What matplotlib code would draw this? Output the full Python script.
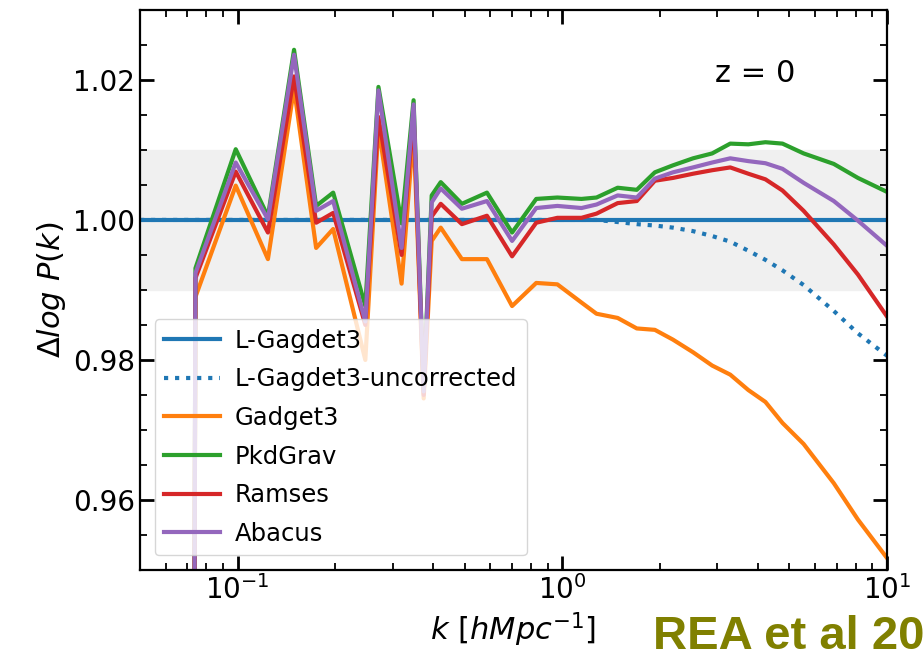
import numpy as np
import matplotlib
matplotlib.use('Agg')
import matplotlib.pyplot as plt
from matplotlib.ticker import MultipleLocator, LogLocator, NullFormatter

# ── data ─────────────────────────────────────────────────────────────────────
k_bins = [0.0731, 0.0741, 0.0986, 0.1239, 0.1491, 0.1744, 0.1968, 0.2472,
          0.2713, 0.3197, 0.3481, 0.3739, 0.3958, 0.4220, 0.4903, 0.5857,
          0.7000, 0.8307, 0.9650, 1.145, 1.274, 1.480, 1.695, 1.927, 2.191,
          2.526, 2.893, 3.289, 3.739, 4.221, 4.764, 5.534, 6.854, 8.134, 10.0]

gadget3 = [0.900, 0.9890, 1.0049, 0.9944, 1.0188, 0.9960, 0.9987, 0.9800,
           1.0133, 0.9909, 1.0128, 0.9745, 0.9970, 0.9989, 0.9944, 0.9944,
           0.9877, 0.9910, 0.9908, 0.9882, 0.9866, 0.9860, 0.9845, 0.9843,
           0.9829, 0.9811, 0.9792, 0.9779, 0.9757, 0.9740, 0.9710, 0.9680,
           0.9624, 0.9572, 0.9517]

pkdgrav = [0.900, 0.9931, 1.0101, 1.0005, 1.0243, 1.0020, 1.0039, 0.9877,
           1.0190, 0.9995, 1.0171, 0.9760, 1.0035, 1.0054, 1.0023, 1.0039,
           0.9982, 1.0030, 1.0032, 1.0030, 1.0032, 1.0046, 1.0043, 1.0068,
           1.0078, 1.0088, 1.0095, 1.0109, 1.0108, 1.0111, 1.0109, 1.0095,
           1.0080, 1.0060, 1.0040]

ramses = [0.900, 0.9917, 1.0069, 0.9982, 1.0205, 0.9996, 1.0010, 0.9850,
          1.0147, 0.9950, 1.0150, 0.9750, 1.0005, 1.0023, 0.9994, 1.0006,
          0.9948, 0.9996, 1.0003, 1.0003, 1.0009, 1.0024, 1.0027, 1.0056,
          1.0060, 1.0066, 1.0071, 1.0075, 1.0066, 1.0058, 1.0042, 1.0013,
          0.9965, 0.9922, 0.9862]

abacus = [0.900, 0.9924, 1.0082, 1.0001, 1.0236, 1.0013, 1.0027, 0.9855,
          1.0185, 0.9960, 1.0165, 0.9755, 1.0025, 1.0045, 1.0016, 1.0027,
          0.9970, 1.0017, 1.0020, 1.0017, 1.0022, 1.0035, 1.0032, 1.0059,
          1.0068, 1.0075, 1.0082, 1.0088, 1.0084, 1.0081, 1.0073, 1.0053,
          1.0027, 0.9999, 0.9963]

k_ref = [0.05, 0.5, 1.0, 1.274, 1.480, 1.695, 1.927, 2.191, 2.526, 2.893,
         3.289, 3.739, 4.221, 4.764, 5.534, 6.854, 8.134, 10.0]
lgadget3 = [1.0] * len(k_ref)
lgadget3_uncorr = [1.0, 1.0, 1.0, 1.0, 0.9997, 0.9994, 0.9992, 0.9989,
                   0.9984, 0.9977, 0.9969, 0.9956, 0.9943, 0.9928, 0.9907,
                   0.9870, 0.9838, 0.9806]

# ── figure ───────────────────────────────────────────────────────────────────
fig = plt.figure(figsize=(9.24, 6.6), dpi=100)
ax = fig.add_axes([0.1515, 0.1364, 0.8085, 0.8486])

ax.axhspan(0.99, 1.01, color='#f0f0f0', zorder=0)

lw = 3
ax.plot(k_ref, lgadget3, color='C0', lw=lw, label='L-Gagdet3')
ax.plot(k_ref, lgadget3_uncorr, color='C0', lw=lw, ls=':',
        label='L-Gagdet3-uncorrected')
ax.plot(k_bins, gadget3, color='C1', lw=lw, label='Gadget3')
ax.plot(k_bins, pkdgrav, color='C2', lw=lw, label='PkdGrav')
ax.plot(k_bins, ramses, color='C3', lw=lw, label='Ramses')
ax.plot(k_bins, abacus, color='C4', lw=lw, label='Abacus')

ax.set_xscale('log')
ax.set_xlim(0.05, 10)
ax.set_ylim(0.95, 1.03)

ax.yaxis.set_minor_locator(MultipleLocator(0.005))
ax.set_yticks([0.96, 0.98, 1.00, 1.02])
ax.set_yticklabels(['0.96', '0.98', '1.00', '1.02'])
ax.xaxis.set_minor_locator(LogLocator(base=10, subs=np.arange(2, 10)))
ax.xaxis.set_minor_formatter(NullFormatter())

ax.tick_params(which='both', direction='in', top=True, right=True,
               labelsize=20)
ax.tick_params(which='major', length=10, width=2)
ax.tick_params(which='minor', length=5, width=1.3)
for s in ax.spines.values():
    s.set_linewidth(1.6)

ax.set_xlabel(r'$k\ [hMpc^{-1}]$', fontsize=22)
ax.set_ylabel(r'$\Delta log\ P(k)$', fontsize=22)

ax.text(0.77, 0.887, 'z = 0', transform=ax.transAxes, fontsize=22,
        va='center', ha='left')

ax.legend(loc='lower left', fontsize=17.5, handlelength=2.3,
          handletextpad=0.6, labelspacing=0.6, borderaxespad=0.6)

fig.text(0.707, 0.016, 'REA et al 20', color='#808000', fontsize=34,
         fontweight='bold', family='Liberation Sans')

plt.savefig('out.png', dpi=100)
